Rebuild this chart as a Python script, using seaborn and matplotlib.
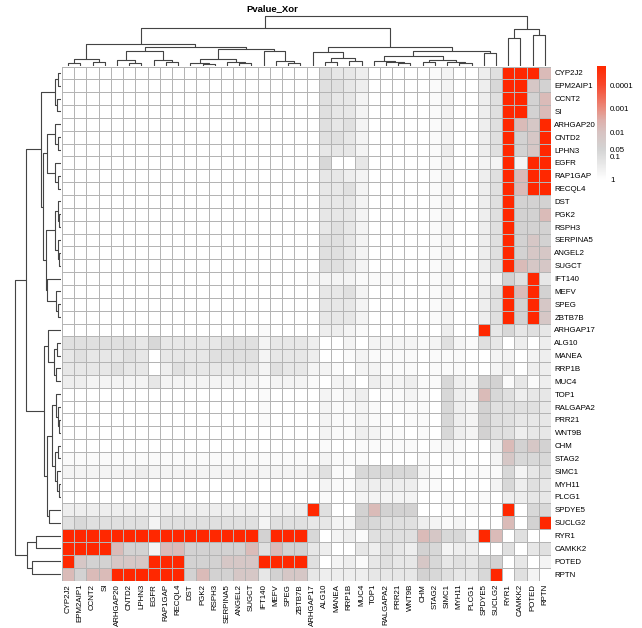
import numpy as np
import pandas as pd
import matplotlib
matplotlib.use("Agg")
import matplotlib.pyplot as plt
import seaborn as sns
from matplotlib.colors import LinearSegmentedColormap

GENES = ["CYP2J2", "EPM2AIP1", "CCNT2", "SI", "ARHGAP20", "CNTD2", "LPHN3", "EGFR",
         "RAP1GAP", "RECQL4", "DST", "PGK2", "RSPH3", "SERPINA5", "ANGEL2", "SUGCT",
         "IFT140", "MEFV", "SPEG", "ZBTB7B", "ARHGAP17", "ALG10", "MANEA", "RRP1B",
         "MUC4", "TOP1", "RALGAPA2", "PRR21", "WNT9B", "CHM", "STAG2", "SIMC1",
         "MYH11", "PLCG1", "SPDYE5", "SUCLG2", "RYR1", "CAMKK2", "POTED", "RPTN"]

# p-value level codes (symmetric matrix, lower triangle)
LEVELS = {"0": 1.0, "1": 0.7, "2": 0.45, "3": 0.3, "4": 0.2, "5": 0.12,
          "6": 0.07, "7": 0.045, "p": 0.015, "q": 0.006, "R": 1e-6}

LOWER = [
    "",
    "0",
    "00",
    "000",
    "0000",
    "00000",
    "000000",
    "0000000",
    "00000000",
    "000000000",
    "0000000000",
    "00000000000",
    "000000000000",
    "0000000000000",
    "00000000000000",
    "000000000000000",
    "0000000000000000",
    "00000000000000000",
    "000000000000000000",
    "0000000000000000000",
    "00000000000000001000",
    "555555464444455524443",
    "4544454044445555244430",
    "44445440354444442544221",
    "332222242222222212221022",
    "0000000000000000100002123",
    "00000000000000001000021121",
    "000000000000000010000211211",
    "0000000000000000000002113211",
    "00000000000000000000010011111",
    "111111111111111111110211100001",
    "2222223222222222222235116666621",
    "00000000000000000000021133333110",
    "000000000000000000000100222220010",
    "33333332333333332333R5007q77700101",
    "56555552555555552555442276555321200",
    "RRRRRRRRRRRRRRRR7RRR602315555qp663Rq",
    "RRRRq772qq77777q5q7743004354376233005",
    "Rp77pppRRR777pppRRRR502314544p64546704",
    "q7qqRRRRRR7q77pp47pp433334444765446R052",
]

# dendrogram shape: [height, left, right]
A_TREE = [0.44,
          [0.14, [0.06, 0, 1], [0.08, 2, 3]],
          [0.38,
           [0.30, [0.12, 4, [0.06, 5, 6]], [0.12, 7, [0.07, 8, 9]]],
           [0.33, [0.14, [0.06, 10, [0.04, 11, 12]], [0.07, 13, [0.05, 14, 15]]],
            [0.30, 16, [0.10, 17, [0.06, 18, 19]]]]]]
MID_TREE = [0.37,
            [0.28, 20, [0.16, [0.08, 21, 22], [0.10, 23, 24]]],
            [0.30, [0.20, [0.10, 25, [0.07, 26, [0.05, 27, 28]]],
                    [0.12, [0.07, 29, 30], [0.08, 31, [0.05, 32, 33]]]],
             [0.26, 34, 35]]]
B_TREE = [0.73, [0.55, 36, 37], [0.62, 38, 39]]
TREE = [1.0, [0.75, A_TREE, MID_TREE], B_TREE]

CBAR_TICKS = [0.0001, 0.001, 0.01, 0.05, 0.1, 1]
CBAR_LABELS = ["0.0001", "0.001", "0.01", "0.05", "0.1", "1"]

n = len(GENES)
P = np.ones((n, n))
for i, row in enumerate(LOWER):
    for j, ch in enumerate(row[:i]):
        P[i, j] = P[j, i] = LEVELS[ch]
df = pd.DataFrame(-np.log10(P), index=GENES, columns=GENES)


def build_linkage(tree, n):
    Z = []

    def rec(node):
        if isinstance(node, int):
            return node, 1
        h, l, r = node
        li, lc = rec(l)
        ri, rc = rec(r)
        Z.append([li, ri, h, lc + rc])
        return n + len(Z) - 1, lc + rc

    rec(tree)
    return np.array(Z, dtype=float)


Z = build_linkage(TREE, n)

VMAX = 4.8
cmap = LinearSegmentedColormap.from_list("pv", [
    (0.0, "#ffffff"),
    (1.3 / VMAX, "#d3d3d3"),
    (2.0 / VMAX, "#d7c3c2"),
    (2.5 / VMAX, "#ddb0ac"),
    (3.0 / VMAX, "#e98e80"),
    (4.0 / VMAX, "#f8472c"),
    (1.0, "#ff2800"),
])

plt.rcParams["font.family"] = ["Liberation Sans", "DejaVu Sans"]
FS = 5.7

g = sns.clustermap(df, row_linkage=Z, col_linkage=Z, cmap=cmap, vmin=0, vmax=VMAX,
                   linewidths=0.7, linecolor="#b4b4b4", figsize=(6.42, 6.28),
                   xticklabels=True, yticklabels=True,
                   tree_kws=dict(linewidths=0.8, colors="#444444"),
                   cbar_kws=dict(ticks=list(-np.log10(CBAR_TICKS))))

W, H = 642.0, 628.0
hx0, hx1, hy0, hy1 = 62.0, 551.0, 66.5, 580.5
g.ax_heatmap.set_position([hx0 / W, 1 - hy1 / H, (hx1 - hx0) / W, (hy1 - hy0) / H])
g.ax_row_dendrogram.set_position([12.5 / W, 1 - hy1 / H, (hx0 - 12.5 - 1) / W, (hy1 - hy0) / H])
g.ax_col_dendrogram.set_position([hx0 / W, 1 - (hy0 - 1) / H, (hx1 - hx0) / W, (hy0 - 1 - 13) / H])
g.ax_cbar.set_position([597 / W, 1 - 180 / H, 9 / W, 114 / H])

hm = g.ax_heatmap
hm.set_xlabel("")
hm.set_ylabel("")
hm.tick_params(axis="both", length=0, labelsize=FS, pad=2.5)
for t in hm.get_xticklabels():
    t.set_rotation(90)

cb = g.ax_cbar
cb.set_yticklabels(CBAR_LABELS)
cb.tick_params(length=0, labelsize=FS, pad=3)
for s in cb.spines.values():
    s.set_visible(False)

g.fig.text(272 / W, 1 - 9 / H, "Pvalue_Xor", ha="center", va="center",
           fontsize=6.8, fontweight="bold")

g.fig.savefig("out.png", dpi=100)
